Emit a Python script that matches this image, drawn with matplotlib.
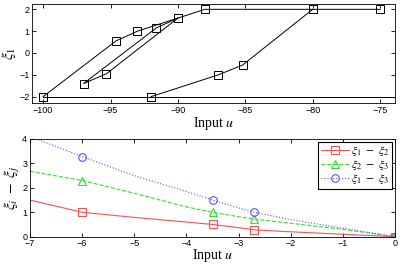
"""
Hysteresis loop of xi_1 against input u, and pairwise differences xi_i - xi_j.
"""

import numpy as np
import matplotlib.pyplot as plt

# top panel: branches of the xi_1 hysteresis loop
outer_u = [-75, -80, -88, -90, -93, -94.6, -100]
outer_xi = [2, 2, 2, 1.6, 1.0, 0.55, -2]
bottom_u = [-100, -92, -70]
bottom_xi = [-2, -2, -2]
rise_u = [-92, -87, -85.2, -80]
rise_xi = [-2, -1.0, -0.55, 2]
inner_u = [-90, -91.6, -97, -95.3, -90]
inner_xi = [1.6, 1.15, -1.4, -0.95, 1.6]

# bottom panel: differences (line samples and marker points)
diff_u = [-7, -6, -5, -4, -3.5, -3, -2.7, -2, -1, 0]
d12 = [1.5, 1.0, 0.79, 0.6, 0.5, 0.37, 0.28, 0.2, 0.1, 0.0]
d23 = [2.68, 2.3, 1.78, 1.22, 1.0, 0.82, 0.72, 0.55, 0.3, 0.0]
d13 = [4.1, 3.28, 2.5, 1.85, 1.5, 1.18, 1.0, 0.7, 0.35, 0.0]
mark_u = [-6, -3.5, -2.7, 0]
m12 = [1.0, 0.5, 0.28, 0.0]
m23 = [2.3, 1.0, 0.72, 0.0]
m13 = [3.28, 1.5, 1.0, 0.0]

plt.rcParams['mathtext.fontset'] = 'stix'
plt.rcParams['font.family'] = 'Liberation Sans'
label_font = {'family': 'Liberation Serif', 'size': 10}

fig = plt.figure(figsize=(4.03, 2.64), dpi=100)
W, H = 403, 264
ax1 = fig.add_axes([32.3 / W, 1 - 103 / H, (395 - 32.3) / W, (103 - 4.3) / H])
ax2 = fig.add_axes([30 / W, 1 - 236.7 / H, (395 - 30) / W, (236.7 - 139) / H])

sq = dict(color='black', lw=0.7, marker='s', ms=5.5, mfc='none', mew=0.7)
for u, xi in [(bottom_u, bottom_xi), (outer_u, outer_xi),
              (rise_u, rise_xi), (inner_u, inner_xi)]:
    ax1.plot(u, xi, **sq)
ax1.set_xlim(-100.8, -73.9)
ax1.set_ylim(-2.29, 2.23)
ax1.set_xticks(np.arange(-100, -74, 5))
ax1.set_yticks([-2, -1, 0, 1, 2])
ax1.set_xlabel('Input $u$', fontdict=label_font, labelpad=0)
ax1.set_ylabel(r'$\xi_1$', fontsize=11, labelpad=1)

series = [(d12, m12, '#ff4d4d', '-', 's', r'$\xi_1\ -\ \xi_2$'),
          (d23, m23, '#33dd33', '--', '^', r'$\xi_2\ -\ \xi_3$'),
          (d13, m13, '#5555ff', ':', 'o', r'$\xi_1\ -\ \xi_3$')]
for line, marks, col, ls, mk, lab in series:
    ax2.plot(diff_u, line, color=col, ls=ls, lw=0.8)
    ax2.plot(mark_u, marks, color=col, ls='none', marker=mk, ms=5.5,
             mfc='none', mew=0.8)
    ax2.plot([], [], color=col, ls=ls, lw=0.8, marker=mk, ms=5.5,
             mfc='none', mew=0.8, label=lab)
ax2.set_xlim(-7, 0)
ax2.set_ylim(0, 4)
ax2.set_xticks(range(-7, 1))
ax2.set_yticks(range(0, 5))
ax2.set_xlabel('Input $u$', fontdict=label_font, labelpad=-1)
ax2.set_ylabel(r'$\xi_i\ -\ \xi_j$', fontsize=11, labelpad=0)
leg = ax2.legend(loc='upper right', fontsize=8.5, fancybox=False,
                 framealpha=1, edgecolor='black', borderpad=0.2,
                 labelspacing=0.0, handlelength=2.4, handletextpad=0.2,
                 borderaxespad=0.25)
leg.get_frame().set_linewidth(0.8)

for ax in (ax1, ax2):
    ax.tick_params(direction='in', top=True, right=True, labelsize=6.5,
                   length=3, width=0.6, pad=2)
    for s in ax.spines.values():
        s.set_linewidth(0.6)

fig.savefig('out.png', dpi=100)
